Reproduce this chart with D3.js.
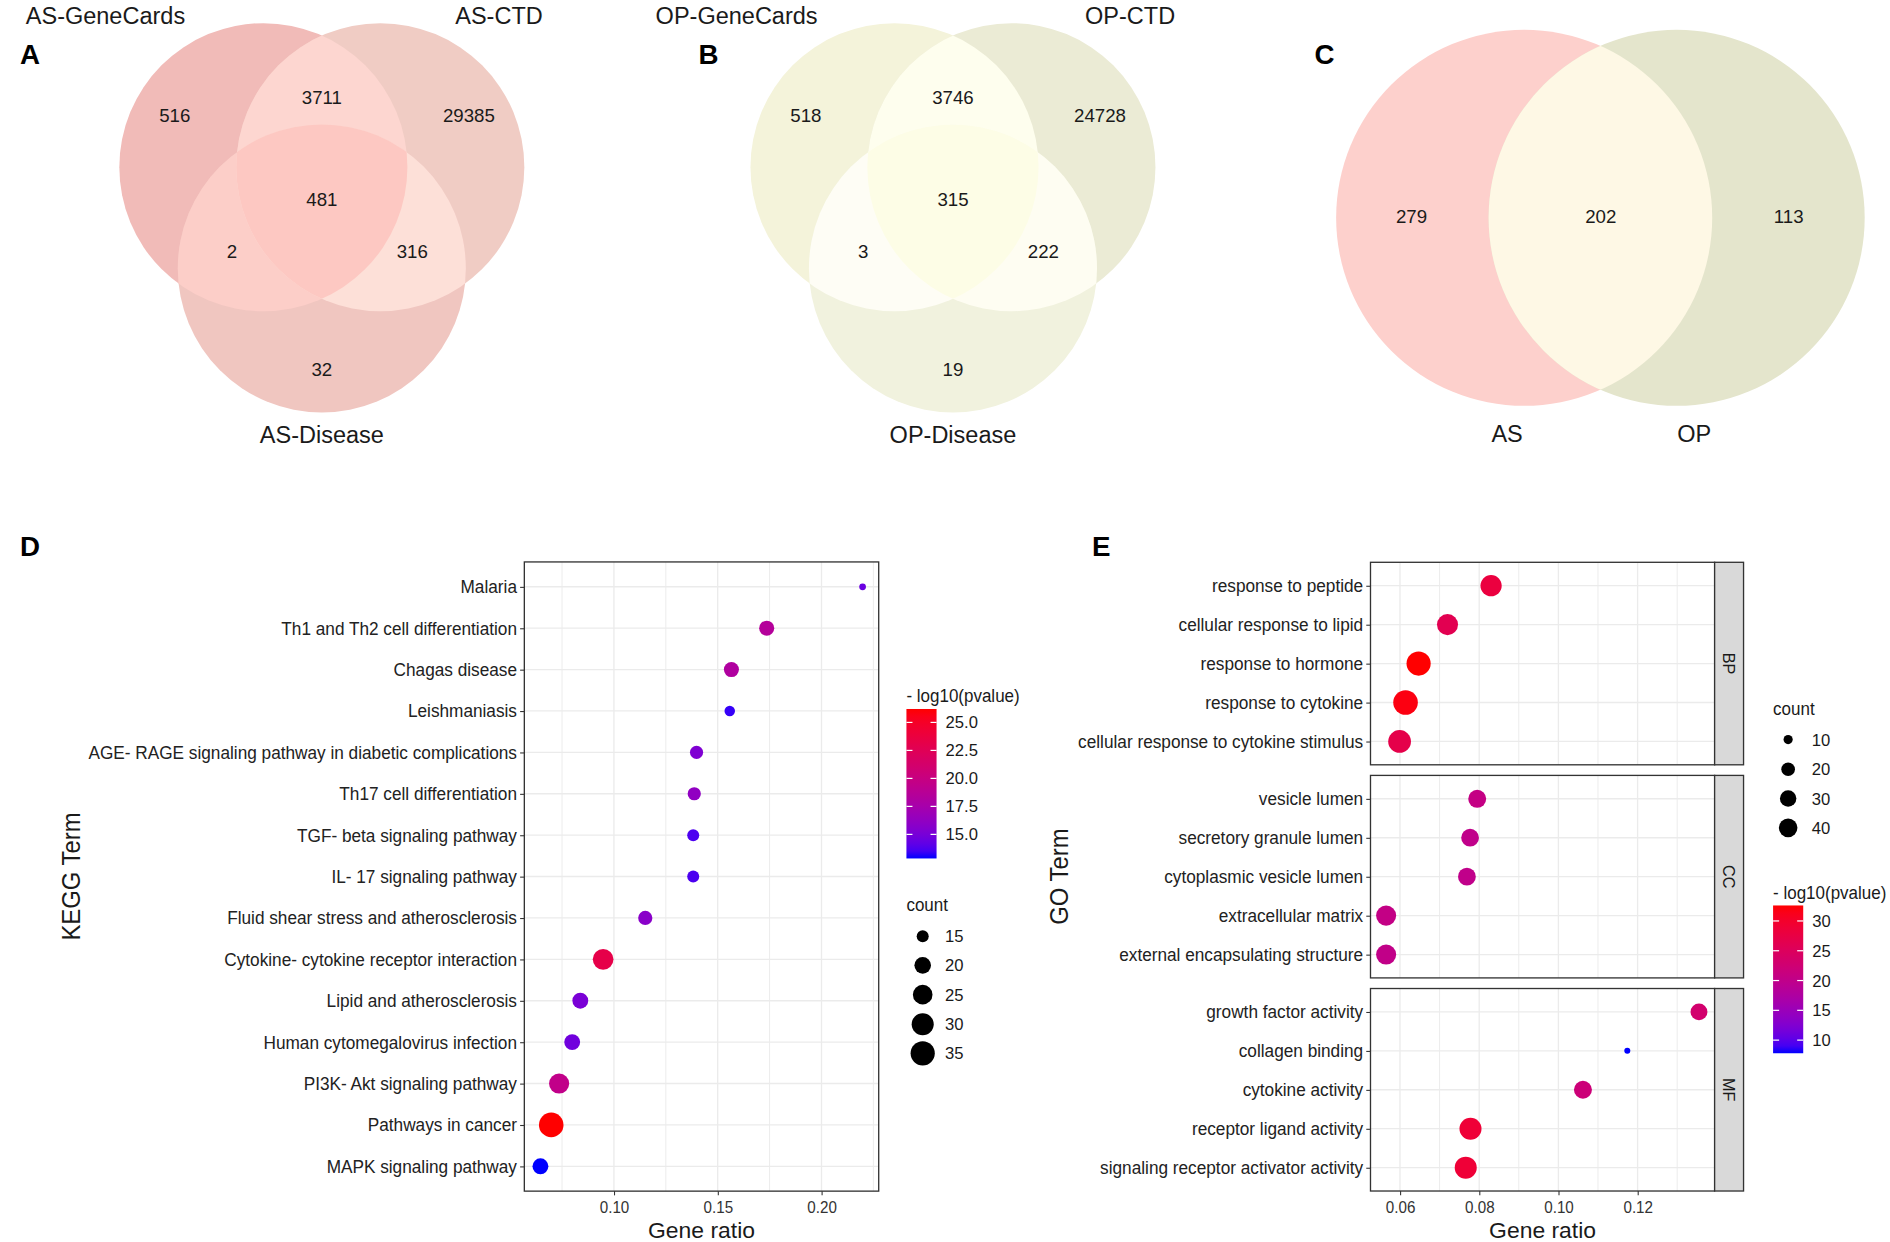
<!DOCTYPE html>
<html><head><meta charset="utf-8">
<script src="https://cdn.jsdelivr.net/npm/d3@7"></script>
<style>
body{margin:0;background:#fff}
svg{display:block}
text{font-family:"Liberation Sans",Arial,Helvetica,sans-serif}
</style>
</head><body>
<svg id="fig" width="1890" height="1242" viewBox="0 0 1568 1030"></svg>
<script>
// ---------------- DATA ----------------
// Venn A (AS)
const vennASets = ["AS-GeneCards", "AS-CTD", "AS-Disease"];
const vennARegions = ["L", "LR", "R", "LRB", "LB", "RB", "B"];
const vennAValues = [516, 3711, 29385, 481, 2, 316, 32];
// Venn B (OP)
const vennBSets = ["OP-GeneCards", "OP-CTD", "OP-Disease"];
const vennBRegions = ["L", "LR", "R", "LRB", "LB", "RB", "B"];
const vennBValues = [518, 3746, 24728, 315, 3, 222, 19];
// Venn C (AS vs OP)
const vennCSets = ["AS", "OP"];
const vennCRegions = ["L", "LR", "R"];
const vennCValues = [279, 202, 113];

// D: KEGG
const keggTerms = ["Malaria", "Th1 and Th2 cell differentiation", "Chagas disease", "Leishmaniasis",
  "AGE- RAGE signaling pathway in diabetic complications", "Th17 cell differentiation",
  "TGF- beta signaling pathway", "IL- 17 signaling pathway", "Fluid shear stress and atherosclerosis",
  "Cytokine- cytokine receptor interaction", "Lipid and atherosclerosis", "Human cytomegalovirus infection",
  "PI3K- Akt signaling pathway", "Pathways in cancer", "MAPK signaling pathway"];
const keggRatio = [0.2198, 0.1736, 0.1566, 0.1558, 0.1398, 0.1387, 0.1382, 0.1382, 0.1151, 0.0948, 0.0838, 0.0799, 0.0736, 0.0698, 0.0646];
const keggCount = [13, 18, 18, 14, 16, 16, 15, 15, 17, 27, 19, 19, 26, 36, 19];
const keggLogP = [14.5, 18.5, 18.2, 13.25, 15.3, 16.2, 13.65, 13.65, 15.8, 23.2, 15.1, 14.7, 19.5, 26.2, 12.85];
const keggXTicks = [0.10, 0.15, 0.20];
const keggSizeBreaks = [15, 20, 25, 30, 35];
const keggColorBreaks = [15.0, 17.5, 20.0, 22.5, 25.0];

// E: GO
const goFacets = ["BP", "CC", "MF"];
const goTerms = ["response to peptide", "cellular response to lipid", "response to hormone", "response to cytokine",
  "cellular response to cytokine stimulus", "vesicle lumen", "secretory granule lumen", "cytoplasmic vesicle lumen",
  "extracellular matrix", "external encapsulating structure", "growth factor activity", "collagen binding",
  "cytokine activity", "receptor ligand activity", "signaling receptor activator activity"];
const goOntology = ["BP", "BP", "BP", "BP", "BP", "CC", "CC", "CC", "CC", "CC", "MF", "MF", "MF", "MF", "MF"];
const goRatio = [0.0830, 0.0720, 0.0647, 0.0614, 0.0599, 0.0795, 0.0777, 0.0769, 0.0565, 0.0565, 0.1355, 0.1174, 0.1062, 0.0778, 0.0766];
const goCount = [55, 54, 75, 78, 65, 37, 36, 36, 48, 48, 32, 8, 37, 60, 60];
const goLogP = [28.1, 26.2, 32.6, 31.9, 26.9, 20.7, 20.0, 20.0, 20.5, 20.2, 23.2, 7.8, 22.0, 28.9, 28.9];
const goXTicks = [0.06, 0.08, 0.10, 0.12];
const goSizeBreaks = [10, 20, 30, 40];
const goColorBreaks = [10, 15, 20, 25, 30];

// ---------------- DRAWING ----------------
const svg = d3.select("#fig");
const defs = svg.append("defs");
svg.append("rect").attr("width", 1568).attr("height", 1030).attr("fill", "#fff");

const TXT = "#1a1a1a";
const AXT = "#333333";

function panelLetter(t, x, y) {
  svg.append("text").attr("x", x).attr("y", y).attr("font-size", 23).attr("font-weight", "bold")
    .attr("fill", "#000").text(t);
}

let clipId = 0;
function venn3(cx, cy, sets, regions, values, colors) {
  const r = 119.5;
  const c = {L: [cx - 48.5, cy], R: [cx + 48.5, cy], B: [cx, cy + 84]};
  const g = svg.append("g");
  const ids = {};
  ["L", "R", "B"].forEach(k => {
    const id = "vclip" + (clipId++);
    ids[k] = id;
    defs.append("clipPath").attr("id", id).append("circle")
      .attr("cx", c[k][0]).attr("cy", c[k][1]).attr("r", r);
  });
  const circ = (sel, k, fill) => sel.append("circle").attr("cx", c[k][0]).attr("cy", c[k][1]).attr("r", r).attr("fill", fill);
  circ(g, "L", colors.L); circ(g, "R", colors.R); circ(g, "B", colors.B);
  circ(g.append("g").attr("clip-path", `url(#${ids.L})`), "R", colors.LR);
  circ(g.append("g").attr("clip-path", `url(#${ids.L})`), "B", colors.LB);
  circ(g.append("g").attr("clip-path", `url(#${ids.R})`), "B", colors.RB);
  circ(g.append("g").attr("clip-path", `url(#${ids.L})`).append("g").attr("clip-path", `url(#${ids.R})`), "B", colors.LRB);

  const pos = {L: [-122, -43], LR: [0, -58], R: [122, -43], LRB: [0, 27], LB: [-74.5, 70], RB: [75, 70], B: [0, 167.5]};
  regions.forEach((k, i) => {
    g.append("text").attr("x", cx + pos[k][0]).attr("y", cy + pos[k][1]).attr("dy", "0.36em")
      .attr("text-anchor", "middle").attr("font-size", 15.5).attr("fill", TXT).text(values[i]);
  });
  const lpos = [[-179.5, -125.5], [147, -125.5], [0, 221.5]];
  sets.forEach((s, i) => {
    g.append("text").attr("x", cx + lpos[i][0]).attr("y", cy + lpos[i][1]).attr("dy", "0.36em")
      .attr("text-anchor", "middle").attr("font-size", 19.5).attr("fill", TXT).text(s);
  });
}

venn3(267, 138.5, vennASets, vennARegions, vennAValues,
  {L: "#f1bbb8", R: "#f0ccc4", B: "#f0c6c0", LR: "#fdd6d0", LB: "#fccec8", RB: "#fde0d8", LRB: "#fdc8c2"});
venn3(790.6, 138.5, vennBSets, vennBRegions, vennBValues,
  {L: "#f4f3da", R: "#ebebd5", B: "#f1f2de", LR: "#fefeee", LB: "#fefdf5", RB: "#fefdf2", LRB: "#fdfde6"});

// Venn C
(function () {
  const r = 156, cy = 180.5, lx = 1264.5, rx = 1391;
  const g = svg.append("g");
  const id = "vclipC";
  defs.append("clipPath").attr("id", id).append("circle").attr("cx", lx).attr("cy", cy).attr("r", r);
  g.append("circle").attr("cx", lx).attr("cy", cy).attr("r", r).attr("fill", "#fdd0cc");
  g.append("circle").attr("cx", rx).attr("cy", cy).attr("r", r).attr("fill", "#e4e5cc");
  g.append("g").attr("clip-path", `url(#${id})`).append("circle").attr("cx", rx).attr("cy", cy).attr("r", r).attr("fill", "#fef8e5");
  const npos = {L: 1171, LR: 1328, R: 1484};
  vennCRegions.forEach((k, i) => {
    g.append("text").attr("x", npos[k]).attr("y", 179).attr("dy", "0.36em").attr("text-anchor", "middle")
      .attr("font-size", 15.5).attr("fill", TXT).text(vennCValues[i]);
  });
  const lp = [1250.3, 1405.5];
  vennCSets.forEach((s, i) => {
    g.append("text").attr("x", lp[i]).attr("y", 359.5).attr("dy", "0.36em").attr("text-anchor", "middle")
      .attr("font-size", 19.5).attr("fill", TXT).text(s);
  });
})();

panelLetter("A", 16.5, 52.5);
panelLetter("B", 579.5, 52.5);
panelLetter("C", 1090.5, 52.5);
panelLetter("D", 16.5, 461);
panelLetter("E", 906, 461);

// ---------- helpers for bubble panels ----------
function sizeScale(counts, rmin, rmax) {
  const [cmin, cmax] = d3.extent(counts);
  return c => rmin + (rmax - rmin) * Math.sqrt(Math.max(0, (c - cmin) / (cmax - cmin)));
}
function colorScale(vals) {
  return d3.scaleLinear().domain(d3.extent(vals)).range(["#0000ff", "#ff0000"]).interpolate(d3.interpolateLab);
}
function paddedX(vals, x0, x1) {
  const [a, b] = d3.extent(vals);
  const p = (b - a) * 0.05;
  return d3.scaleLinear().domain([a - p, b + p]).range([x0, x1]);
}
function minorTicks(major, dom) {
  const step = major[1] - major[0];
  const out = [];
  for (let v = major[0] - step / 2; v <= dom[1] + 1e-9; v += step) if (v >= dom[0]) out.push(v);
  return out;
}
function drawGridX(g, x, major, y0, y1) {
  const dom = x.domain();
  g.selectAll(null).data(minorTicks(major, dom)).enter().append("line")
    .attr("x1", d => x(d)).attr("x2", d => x(d)).attr("y1", y0).attr("y2", y1)
    .attr("stroke", "#ebebeb").attr("stroke-width", 0.8);
  g.selectAll(null).data(major).enter().append("line")
    .attr("x1", d => x(d)).attr("x2", d => x(d)).attr("y1", y0).attr("y2", y1)
    .attr("stroke", "#ebebeb").attr("stroke-width", 1.1);
}
function drawXAxis(x, ticks, y, fmt) {
  const ax = d3.axisBottom(x).tickValues(ticks).tickFormat(fmt).tickSize(3.5).tickPadding(4.5);
  const g = svg.append("g").attr("transform", `translate(0,${y})`).call(ax);
  g.select(".domain").remove();
  g.selectAll(".tick line").attr("stroke", AXT).attr("stroke-width", 0.9);
  g.selectAll(".tick text").attr("font-size", 14).attr("fill", "#333").attr("font-family", null)
    .attr("transform", "scale(0.9,1)");
}
function drawYAxis(y, x0) {
  const ax = d3.axisLeft(y).tickSize(3.5).tickPadding(3);
  const g = svg.append("g").attr("transform", `translate(${x0},0)`).call(ax);
  g.select(".domain").remove();
  g.selectAll(".tick line").attr("stroke", AXT).attr("stroke-width", 0.9);
  g.selectAll(".tick text").attr("font-size", 15.2).attr("fill", "#222").attr("font-family", null)
    .attr("transform", "scale(0.94,1)");
}
function colorLegend(col, breaks, title, x0, yTitle, yTop, yBot, fmt) {
  const w = 25;
  const dom = col.domain();
  const gid = "grad" + (clipId++);
  const grad = defs.append("linearGradient").attr("id", gid).attr("x1", 0).attr("y1", 1).attr("x2", 0).attr("y2", 0);
  d3.range(0, 1.0001, 0.05).forEach(t => {
    grad.append("stop").attr("offset", t).attr("stop-color", col(dom[0] + t * (dom[1] - dom[0])));
  });
  svg.append("text").attr("x", x0).attr("y", yTitle).attr("dy", "0.36em").attr("font-size", 15).attr("fill", TXT)
    .attr("transform", `translate(${x0},0) scale(0.94,1) translate(${-x0},0)`).text(title);
  svg.append("rect").attr("x", x0).attr("y", yTop).attr("width", w).attr("height", yBot - yTop).attr("fill", `url(#${gid})`);
  const ly = d3.scaleLinear().domain(dom).range([yBot, yTop]);
  breaks.forEach(b => {
    const yy = ly(b);
    svg.append("line").attr("x1", x0).attr("x2", x0 + 5).attr("y1", yy).attr("y2", yy).attr("stroke", "#fff").attr("stroke-width", 1);
    svg.append("line").attr("x1", x0 + w - 5).attr("x2", x0 + w).attr("y1", yy).attr("y2", yy).attr("stroke", "#fff").attr("stroke-width", 1);
    svg.append("text").attr("x", x0 + w + 7.5).attr("y", yy).attr("dy", "0.36em").attr("font-size", 13.8).attr("fill", TXT).text(fmt(b));
  });
}
function sizeLegend(rs, breaks, title, x0, yTitle, ys, dotX, labX) {
  svg.append("text").attr("x", x0).attr("y", yTitle).attr("dy", "0.36em").attr("font-size", 15).attr("fill", TXT)
    .attr("transform", `translate(${x0},0) scale(0.94,1) translate(${-x0},0)`).text(title);
  breaks.forEach((b, i) => {
    svg.append("circle").attr("cx", dotX).attr("cy", ys[i]).attr("r", rs(b)).attr("fill", "#000");
    svg.append("text").attr("x", labX).attr("y", ys[i]).attr("dy", "0.36em").attr("font-size", 13.8).attr("fill", TXT).text(b);
  });
}

// ---------- Panel D ----------
(function () {
  const L = 435, R = 729, T = 466, B = 988;
  const x = paddedX(keggRatio, L, R);
  const y = d3.scalePoint().domain(keggTerms).range([T, B]).padding(0.6);
  const rs = sizeScale(keggCount, 2.8, 10.2);
  const col = colorScale(keggLogP);
  const g = svg.append("g");
  g.append("rect").attr("x", L).attr("y", T).attr("width", R - L).attr("height", B - T).attr("fill", "#fff");
  drawGridX(g, x, keggXTicks, T, B);
  g.selectAll(null).data(keggTerms).enter().append("line")
    .attr("x1", L).attr("x2", R).attr("y1", d => y(d)).attr("y2", d => y(d))
    .attr("stroke", "#ebebeb").attr("stroke-width", 1.1);
  g.selectAll(null).data(keggTerms).enter().append("circle")
    .attr("cx", (d, i) => x(keggRatio[i])).attr("cy", d => y(d))
    .attr("r", (d, i) => rs(keggCount[i])).attr("fill", (d, i) => col(keggLogP[i]));
  g.append("rect").attr("x", L).attr("y", T).attr("width", R - L).attr("height", B - T)
    .attr("fill", "none").attr("stroke", "#333").attr("stroke-width", 1.1);
  drawXAxis(x, keggXTicks, B, d3.format(".2f"));
  drawYAxis(y, L);
  svg.append("text").attr("x", (L + R) / 2).attr("y", 1020).attr("dy", "0.36em").attr("text-anchor", "middle")
    .attr("font-size", 19).attr("fill", TXT).text("Gene ratio");
  svg.append("text").attr("transform", `translate(58.5,${(T + B) / 2}) rotate(-90) scale(0.9,1)`).attr("dy", "0.36em")
    .attr("text-anchor", "middle").attr("font-size", 22).attr("fill", TXT).text("KEGG Term");
  colorLegend(col, keggColorBreaks, "- log10(pvalue)", 752, 577, 588, 712, d3.format(".1f"));
  sizeLegend(rs, keggSizeBreaks, "count", 752, 750, [776.5, 800.7, 825, 849.5, 873.7], 765.5, 784);
})();

// ---------- Panel E ----------
(function () {
  const L = 1137, R = 1422.5, S1 = 1446.5, T0 = 466.3, H = 168, GAP = 8.8;
  const x = paddedX(goRatio, L, R);
  const rs = sizeScale(goCount, 2.5, 10.2);
  const col = colorScale(goLogP);
  goFacets.forEach((f, fi) => {
    const T = T0 + fi * (H + GAP), B = T + H;
    const idx = goTerms.map((t, i) => i).filter(i => goOntology[i] === f);
    const terms = idx.map(i => goTerms[i]);
    const y = d3.scalePoint().domain(terms).range([T, B]).padding(0.6);
    const g = svg.append("g");
    g.append("rect").attr("x", L).attr("y", T).attr("width", R - L).attr("height", H).attr("fill", "#fff");
    drawGridX(g, x, goXTicks, T, B);
    g.selectAll(null).data(terms).enter().append("line")
      .attr("x1", L).attr("x2", R).attr("y1", d => y(d)).attr("y2", d => y(d))
      .attr("stroke", "#ebebeb").attr("stroke-width", 1.1);
    g.selectAll(null).data(idx).enter().append("circle")
      .attr("cx", i => x(goRatio[i])).attr("cy", i => y(goTerms[i]))
      .attr("r", i => rs(goCount[i])).attr("fill", i => col(goLogP[i]));
    g.append("rect").attr("x", L).attr("y", T).attr("width", R - L).attr("height", H)
      .attr("fill", "none").attr("stroke", "#333").attr("stroke-width", 1.1);
    // strip
    g.append("rect").attr("x", R).attr("y", T).attr("width", S1 - R).attr("height", H)
      .attr("fill", "#d9d9d9").attr("stroke", "#333").attr("stroke-width", 1.1);
    g.append("text").attr("transform", `translate(${(R + S1) / 2},${T + H / 2}) rotate(90)`).attr("dy", "0.36em")
      .attr("text-anchor", "middle").attr("font-size", 13.5).attr("fill", "#1a1a1a").text(f);
    drawYAxis(y, L);
    if (fi === goFacets.length - 1) drawXAxis(x, goXTicks, B, d3.format(".2f"));
  });
  const Tall = T0, Ball = T0 + 3 * H + 2 * GAP;
  svg.append("text").attr("x", (L + R) / 2).attr("y", 1020).attr("dy", "0.36em").attr("text-anchor", "middle")
    .attr("font-size", 19).attr("fill", TXT).text("Gene ratio");
  svg.append("text").attr("transform", `translate(878,${(Tall + Ball) / 2}) rotate(-90) scale(0.9,1)`).attr("dy", "0.36em")
    .attr("text-anchor", "middle").attr("font-size", 22).attr("fill", TXT).text("GO Term");
  sizeLegend(rs, goSizeBreaks, "count", 1471, 588, [613.4, 638, 662.3, 686.6], 1483.5, 1503);
  colorLegend(col, goColorBreaks, "- log10(pvalue)", 1471, 740.6, 751, 873.6, d3.format("d"));
})();
</script>
</body></html>
